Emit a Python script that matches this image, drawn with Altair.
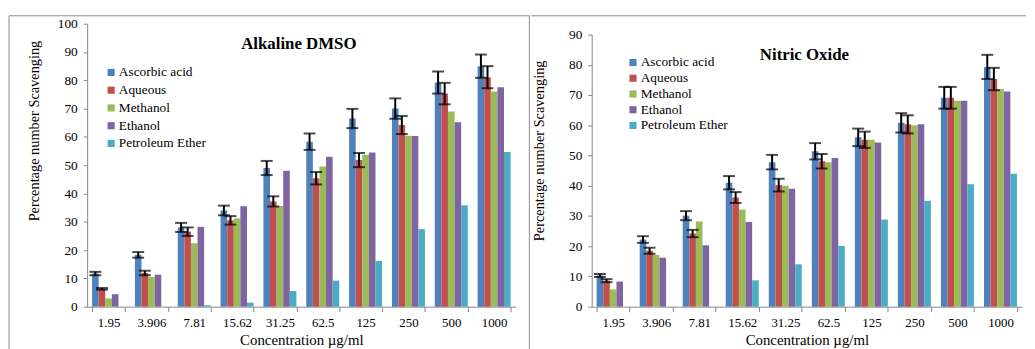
import altair as alt
import pandas as pd

conc = ["1.95", "3.906", "7.81", "15.62", "31.25", "62.5", "125", "250", "500", "1000"]
series = ["Ascorbic acid", "Aqueous", "Methanol", "Ethanol", "Petroleum Ether"]
colors = ["#4F81BD", "#C0504D", "#9BBB59", "#8064A2", "#4BACC6"]

# Alkaline DMSO
dmso_asc = [11.7, 18.3, 28.0, 34.0, 49.0, 58.3, 66.5, 70.0, 79.2, 85.0]
dmso_aq = [6.3, 11.9, 26.5, 30.5, 37.2, 45.4, 51.8, 64.2, 75.3, 81.1]
dmso_meth = [2.9, 10.5, 22.4, 31.2, 35.6, 49.5, 53.7, 60.4, 69.0, 76.0]
dmso_eth = [4.4, 11.3, 28.2, 35.5, 48.0, 53.0, 54.5, 60.3, 65.2, 77.5]
dmso_pe = [0, 0, 0.5, 1.4, 5.5, 9.2, 16.2, 27.4, 35.8, 54.7]
dmso_asc_err = [0.6, 1.0, 1.6, 1.7, 2.5, 2.9, 3.4, 3.6, 3.9, 4.1]
dmso_aq_err = [0.3, 0.8, 1.5, 1.5, 1.8, 2.2, 2.5, 3.2, 3.8, 3.9]

# Nitric Oxide
no_asc = [10.3, 22.2, 30.1, 41.0, 47.8, 51.4, 56.0, 60.8, 69.1, 79.3]
no_aq = [8.6, 18.5, 24.2, 36.1, 40.2, 48.1, 55.2, 60.3, 69.1, 75.3]
no_meth = [5.7, 17.1, 28.2, 32.1, 40.0, 47.8, 55.2, 60.0, 68.1, 72.0]
no_eth = [8.3, 16.2, 20.3, 28.0, 39.0, 49.2, 54.3, 60.3, 68.1, 71.2]
no_pe = [0, 0, 0, 8.7, 14.0, 20.1, 28.8, 35.0, 40.5, 44.0]
no_asc_err = [0.5, 1.1, 1.5, 2.2, 2.4, 2.7, 2.9, 3.2, 3.6, 4.0]
no_aq_err = [0.5, 1.0, 1.2, 1.8, 2.1, 2.4, 2.7, 3.0, 3.6, 3.7]

FONT = "Liberation Serif"
H = 286


def long_df(vals):
    rows = []
    for s, v in zip(series, vals):
        for c, x in zip(conc, v):
            rows.append({"conc": c, "series": s, "value": x})
    return pd.DataFrame(rows)


def err_df(means, errs, names):
    rows = []
    for s, m, e in zip(names, means, errs):
        for c, x, d in zip(conc, m, e):
            rows.append({"conc": c, "series": s, "lo": x - d, "hi": x + d})
    return pd.DataFrame(rows)


def panel(vals, errs_means, errs, ymax, ytop, width, title, title_xy,
          ytitle_y, legend_xy, row_pad, frame_layer):
    df = long_df(vals)
    edf = err_df(errs_means, errs, series[:2])
    xscale = alt.Scale(paddingInner=0.23, paddingOuter=0.115)
    xaxis = alt.Axis(labelAngle=0, tickBand="extent", tickSize=5,
                     labelPadding=5, labelFontSize=13, labelFont=FONT,
                     titleFont=FONT, labelColor="black", titleColor="black",
                     title="Concentration µg/ml", titleFontSize=15,
                     titlePadding=3, titleFontWeight="normal")
    xoff = alt.XOffset("series:N", sort=series, scale=alt.Scale(domain=series))
    yscale = alt.Scale(domain=[0, ymax], nice=False, range=[H, ytop])
    yaxis = alt.Axis(values=list(range(0, ymax + 1, 10)), tickSize=4,
                     labelPadding=6, labelFontSize=13.5, labelOverlap=False,
                     labelFont=FONT, titleFont=FONT, labelColor="black",
                     titleColor="black",
                     title="Percentage number Scavenging", titleFontSize=14.5,
                     titleFontWeight="normal", titleAngle=270,
                     titleX=-53, titleY=ytitle_y, titleAlign="center",
                     titleBaseline="middle")

    def X():
        return alt.X("conc:N", sort=conc, scale=xscale, axis=xaxis)

    bars = alt.Chart(df).mark_bar().encode(
        x=X(),
        xOffset=xoff,
        y=alt.Y("value:Q", scale=yscale, axis=yaxis),
        color=alt.Color("series:N", sort=series,
                        scale=alt.Scale(domain=series, range=colors),
                        legend=alt.Legend(orient="none", legendX=legend_xy[0],
                                          legendY=legend_xy[1], title=None,
                                          symbolType="square", symbolSize=52,
                                          symbolStrokeWidth=0, labelFont=FONT,
                                          labelFontSize=13.5, labelColor="black",
                                          rowPadding=row_pad, padding=0,
                                          labelOffset=1, symbolOpacity=1)),
    )
    rule = alt.Chart(edf).mark_rule(color="black", strokeWidth=2).encode(
        x=X(), xOffset=xoff,
        y=alt.Y("lo:Q", scale=yscale, axis=yaxis), y2="hi:Q")
    tlo = alt.Chart(edf).mark_tick(color="black", thickness=2, size=12).encode(
        x=X(), xOffset=xoff,
        y=alt.Y("lo:Q", scale=yscale, axis=yaxis))
    thi = alt.Chart(edf).mark_tick(color="black", thickness=2, size=12).encode(
        x=X(), xOffset=xoff,
        y=alt.Y("hi:Q", scale=yscale, axis=yaxis))
    ttl = alt.Chart(pd.DataFrame({"t": [title]})).mark_text(
        font=FONT, fontSize=17, fontWeight="bold", color="black",
        align="center", baseline="middle").encode(
        text="t:N", x=alt.value(title_xy[0]), y=alt.value(title_xy[1]))
    return alt.layer(bars, frame_layer, rule, tlo, thi, ttl).properties(
        width=width, height=H)


frame_src = pd.DataFrame({"k": [0]})
left_frame = alt.Chart(frame_src).mark_rect(
    fillOpacity=0, stroke="#8c8c8c", strokeWidth=1).encode(
    x=alt.value(-79), x2=alt.value(447), y=alt.value(-8), y2=alt.value(332))
right_frame = alt.Chart(frame_src).mark_rule(
    color="#8c8c8c", strokeWidth=1).encode(
    x=alt.value(-61), x2=alt.value(439), y=alt.value(-8))

left = panel([dmso_asc, dmso_aq, dmso_meth, dmso_eth, dmso_pe],
             [dmso_asc, dmso_aq], [dmso_asc_err, dmso_aq_err],
             100, 0, 433, "Alkaline DMSO", (214, 21), 108,
             (17.5, 42.5), 2.95, left_frame)
right = panel([no_asc, no_aq, no_meth, no_eth, no_pe],
              [no_asc, no_aq], [no_asc_err, no_aq_err],
              90, 11, 435, "Nitric Oxide", (215, 32), 128,
              (35, 32.5), 0.9, right_frame)

chart = alt.hconcat(left, right, spacing=0).resolve_scale(
    color="independent").resolve_legend(color="independent").properties(
    padding={"top": 5, "left": 0, "right": 0, "bottom": 0}
).configure(font=FONT).configure_view(stroke=None).configure_axis(
    grid=False, labelFont=FONT, titleFont=FONT, labelColor="black",
    titleColor="black", domainColor="#868686", tickColor="#868686",
    domainWidth=1).configure_legend(labelFont=FONT, labelColor="black")

chart.save("out.html", embed_options={"renderer": "svg", "actions": False})
